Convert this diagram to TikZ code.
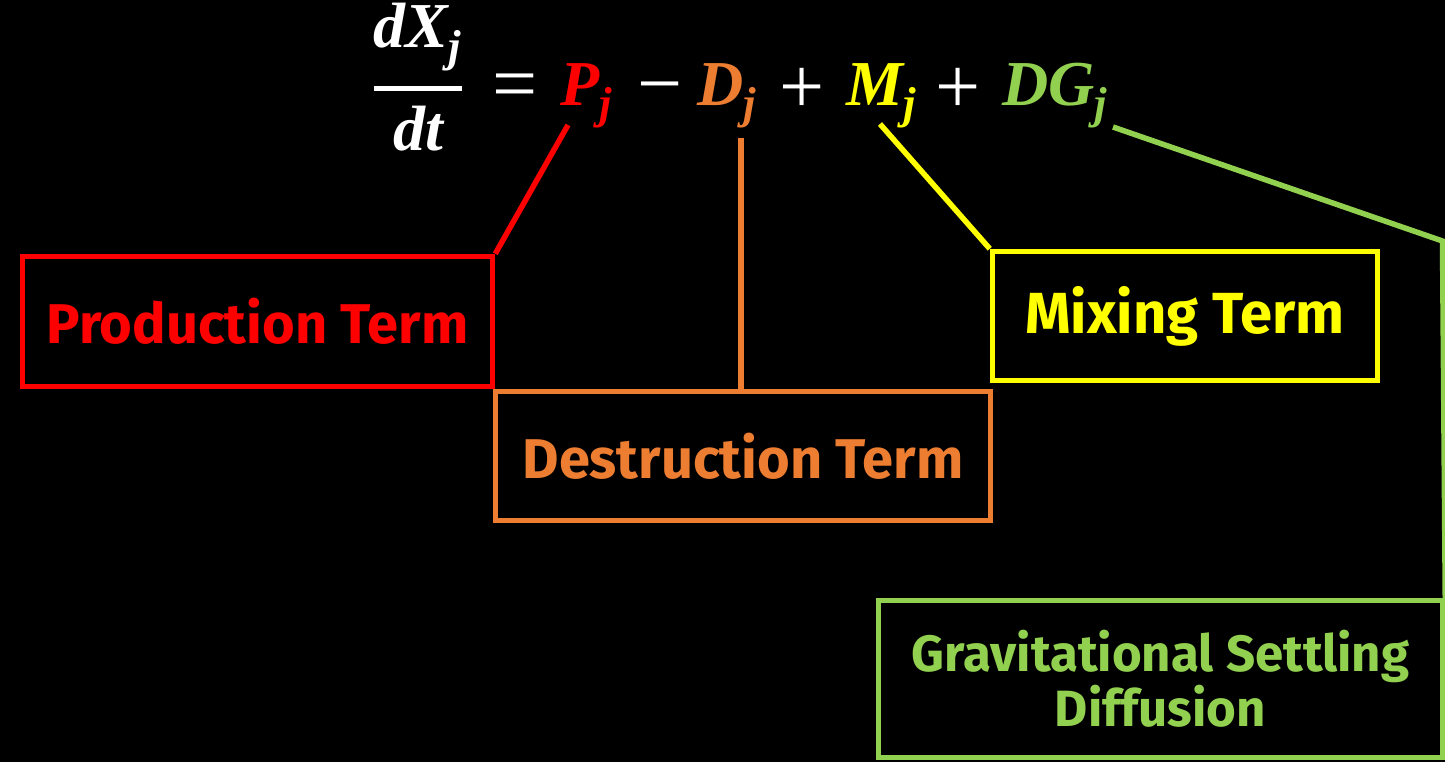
\documentclass[tikz,border=0pt]{standalone}
\usepackage{amsmath}
\usepackage{fontspec}
\setmainfont{Fira Sans}
\newfontfamily\eqf{Liberation Serif}
\definecolor{cred}{HTML}{FF0000}
\definecolor{corange}{HTML}{ED7D31}
\definecolor{cyellow}{HTML}{FFFF00}
\definecolor{cgreen}{HTML}{92D050}
\newcommand{\ev}[1]{\text{\eqf\bfseries\itshape #1}}
\tikzset{
  termbox/.style={draw, line width=2.75pt, inner sep=0pt, align=center,
    font=\fontsize{28}{27.5}\selectfont\bfseries},
  eq/.style={anchor=base, inner sep=0pt, font=\fontsize{32}{38}\selectfont, text=white},
  op/.style={anchor=base, inner sep=0pt, font=\eqf\fontsize{40}{44}\selectfont, text=white},
  conn/.style={line width=2.75pt}
}
\begin{document}
\begin{tikzpicture}[x=0.5pt,y=-0.5pt]
\fill[black] (0,0) rectangle (1445,762);
\useasboundingbox (0,0) rectangle (1445,762);
% equation
\node[eq] (frac) at (418,101) {$\genfrac{}{}{2.5pt}{0}{\ev{dX}_{\ev{j}}}{\ev{dt}}$};
\node[op] (eqs) at (515,110) {=};
\node[eq, text=cred] (P) at (587,105) {$\ev{P}_{\ev{j}}$};
\node[op] (m1) at (660,110) {−};
\node[eq, text=corange] (D) at (727,105) {$\ev{D}_{\ev{j}}$};
\node[op] (p1) at (802,113) {+};
\node[eq, text=cyellow] (M) at (882,105) {$\ev{M}_{\ev{j}}$};
\node[op] (p2) at (958,113) {+};
\node[eq, text=cgreen] (DG) at (1055,105) {$\ev{DG}_{\ev{j}}$};
% connector start points
\coordinate (Ps) at (568,125);
\coordinate (Ds) at (741,138);
\coordinate (Ms) at (880,124);
\coordinate (Gs) at (1113,127);
\coordinate (Gk) at (1442.5,241);
% boxes
\node[termbox, draw=cred, text=cred, minimum width=235pt, minimum height=65pt] (prod) at (257.5,321.5) {Production Term};
\node[termbox, draw=corange, text=corange, minimum width=247.5pt, minimum height=64.5pt] (dest) at (743,456) {Destruction Term};
\node[termbox, draw=cyellow, text=cyellow, minimum width=192.5pt, minimum height=64.5pt, font=\fontsize{29}{27.5}\selectfont\bfseries] (mix) at (1185,316) {Mixing Term};
\node[termbox, draw=cgreen, text=cgreen, minimum width=282pt, minimum height=78.5pt, font=\fontsize{25.5}{27.5}\selectfont\bfseries] (grav) at (1160.5,679) {Gravitational Settling\\Diffusion};
% connectors
\draw[conn, cred] (Ps) -- (prod.north east);
\draw[conn, corange] (Ds) -- (Ds |- dest.north);
\draw[conn, cyellow] (Ms) -- (mix.north west);
\draw[conn, cgreen] (Gs) -- (Gk) -- (grav.north east);
\end{tikzpicture}
\end{document}
